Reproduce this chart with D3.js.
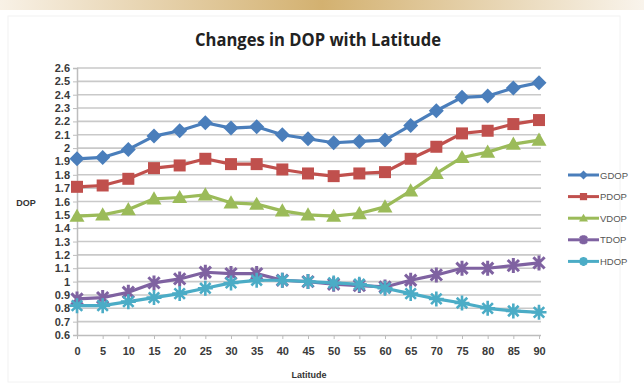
<!DOCTYPE html>
<html>
<head>
<meta charset="utf-8">
<script src="https://cdn.jsdelivr.net/npm/d3@7"></script>
<style>
  html, body { margin: 0; padding: 0; background: #fff; }
  svg { display: block; }
  text { font-family: "Liberation Sans Narrow", "Liberation Sans", Arial, sans-serif; }
</style>
</head>
<body>
<svg id="chart" width="644" height="389"></svg>
<script>
// Latitude categories (degrees)
const latitudes = [0, 5, 10, 15, 20, 25, 30, 35, 40, 45, 50, 55, 60, 65, 70, 75, 80, 85, 90];

// Dilution of precision values per latitude
const gdop = [1.92, 1.93, 1.99, 2.09, 2.13, 2.19, 2.15, 2.16, 2.10, 2.07, 2.04, 2.05, 2.06, 2.17, 2.28, 2.38, 2.39, 2.45, 2.49];
const pdop = [1.71, 1.72, 1.77, 1.85, 1.87, 1.92, 1.88, 1.88, 1.84, 1.81, 1.79, 1.81, 1.82, 1.92, 2.01, 2.11, 2.13, 2.18, 2.21];
const vdop = [1.49, 1.50, 1.54, 1.62, 1.63, 1.65, 1.59, 1.58, 1.53, 1.50, 1.49, 1.51, 1.56, 1.68, 1.81, 1.93, 1.97, 2.03, 2.06];
const tdop = [0.87, 0.88, 0.92, 0.99, 1.02, 1.07, 1.06, 1.06, 1.01, 1.00, 0.98, 0.97, 0.96, 1.01, 1.05, 1.10, 1.10, 1.12, 1.14];
const hdop = [0.82, 0.82, 0.85, 0.88, 0.91, 0.95, 0.99, 1.01, 1.01, 1.00, 0.99, 0.98, 0.95, 0.91, 0.87, 0.84, 0.80, 0.78, 0.77];

// Y axis tick values and their printed labels
const yTicks = [0.6, 0.7, 0.8, 0.9, 1.0, 1.1, 1.2, 1.3, 1.4, 1.5, 1.6, 1.7, 1.8, 1.9, 2.0, 2.1, 2.2, 2.3, 2.4, 2.5, 2.6];
const yTickLabels = ["0.6","0.7","0.8","0.9","1","1.1","1.2","1.3","1.4","1.5","1.6","1.7","1.8","1.9","2","2.1","2.2","2.3","2.4","2.5","2.6"];

const seriesNames = ["GDOP", "PDOP", "VDOP", "TDOP", "HDOP"];
const seriesValues = [gdop, pdop, vdop, tdop, hdop];
const seriesColors = ["#4a7ebb", "#c0504d", "#9bbb59", "#7f62a1", "#4bacc6"];
const seriesMarkers = ["diamond", "square", "triangle", "xstar", "star"];

const svg = d3.select("#chart");

// Decorative header band
const defs = svg.append("defs");
const grad = defs.append("linearGradient").attr("id", "band").attr("x1", "0").attr("x2", "1");
grad.append("stop").attr("offset", "0").attr("stop-color", "#f8f1e6");
grad.append("stop").attr("offset", "0.5").attr("stop-color", "#d3b170");
grad.append("stop").attr("offset", "1").attr("stop-color", "#f9f4ec");
svg.append("rect").attr("x", 0).attr("y", 0).attr("width", 644).attr("height", 10).attr("fill", "url(#band)");

// Chart frame
svg.append("rect").attr("x", 8).attr("y", 16).attr("width", 612).attr("height", 366)
  .attr("fill", "#fff").attr("stroke", "#f2f2f2").attr("stroke-width", 1);

const x = d3.scalePoint().domain(latitudes).range([77, 539]);
const y = d3.scaleLinear().domain([0.6, 2.6]).range([335, 68]);
const left = 77, right = 541;

// Horizontal gridlines
svg.append("g").selectAll("line").data(yTicks.slice(1)).join("line")
  .attr("x1", left).attr("x2", right)
  .attr("y1", d => y(d)).attr("y2", d => y(d))
  .attr("stroke", "#c9c9c9").attr("stroke-width", 1.6);

// Y axis
const yAxis = d3.axisLeft(y).tickValues(yTicks).tickFormat((d, i) => yTickLabels[i]).tickSize(4).tickPadding(3);
const gy = svg.append("g").attr("transform", `translate(${left},0)`).call(yAxis);
gy.select(".domain").attr("stroke", "#bdbdbd").attr("stroke-width", 1.5);
gy.selectAll(".tick line").attr("stroke", "#bdbdbd");
gy.selectAll("text").attr("fill", "#3a3a3a").attr("font-size", 11).attr("font-weight", "bold");

// X axis
const xAxis = d3.axisBottom(x).tickSize(4).tickPadding(8);
const gx = svg.append("g").attr("transform", `translate(0,${y(0.6)})`).call(xAxis);
gx.select(".domain").attr("d", `M${left},0.5H${right}`).attr("stroke", "#bdbdbd").attr("stroke-width", 1.5);
gx.selectAll(".tick line").attr("stroke", "#bdbdbd");
gx.selectAll("text").attr("fill", "#3a3a3a").attr("font-size", 11).attr("font-weight", "bold");

// Titles
svg.append("text").attr("x", 318).attr("y", 46).attr("text-anchor", "middle")
  .attr("font-size", 17.5).attr("font-weight", "bold").attr("fill", "#222")
  .style("font-family", "'Open Sans', 'Liberation Sans', sans-serif")
  .attr("textLength", 246).attr("lengthAdjust", "spacingAndGlyphs")
  .text("Changes in DOP with Latitude");
svg.append("text").attr("x", 309).attr("y", 378).attr("text-anchor", "middle")
  .attr("font-size", 9).attr("font-weight", "bold").attr("fill", "#333").text("Latitude");
svg.append("text").attr("x", 26).attr("y", 206).attr("text-anchor", "middle")
  .attr("font-size", 9).attr("font-weight", "bold").attr("fill", "#333").text("DOP");

// Marker drawing
function drawMarker(g, type, color, s) {
  if (type === "diamond") {
    g.append("path").attr("d", `M0,${-s}L${s},0L0,${s}L${-s},0Z`).attr("fill", color);
  } else if (type === "square") {
    g.append("rect").attr("x", -s * 0.8).attr("y", -s * 0.8).attr("width", s * 1.6).attr("height", s * 1.6).attr("fill", color);
  } else if (type === "triangle") {
    g.append("path").attr("d", `M0,${-s}L${s},${s * 0.75}L${-s},${s * 0.75}Z`).attr("fill", color);
  } else if (type === "xstar") {
    const a = s * 0.75;
    g.append("path").attr("d", `M${-a},${-a}L${a},${a}M${-a},${a}L${a},${-a}M0,${-s}V${s}`)
      .attr("stroke", color).attr("stroke-width", 3).attr("fill", "none");
  } else if (type === "star") {
    const a = s * 0.7;
    g.append("path").attr("d", `M${-a},${-a}L${a},${a}M${-a},${a}L${a},${-a}M0,${-s}V${s}M${-s},0H${s}`)
      .attr("stroke", color).attr("stroke-width", 2.6).attr("fill", "none");
  }
}

const line = d3.line().x((d, i) => x(latitudes[i])).y(d => y(d));

seriesValues.forEach((vals, k) => {
  const g = svg.append("g");
  g.append("path").datum(vals).attr("d", line)
    .attr("fill", "none").attr("stroke", seriesColors[k]).attr("stroke-width", 3.2)
    .attr("stroke-linejoin", "round");
  vals.forEach((v, i) => {
    const m = g.append("g").attr("transform", `translate(${x(latitudes[i])},${y(v)})`);
    drawMarker(m, seriesMarkers[k], seriesColors[k], 7.5);
  });
});

// Legend
const legend = svg.append("g");
seriesNames.forEach((name, k) => {
  const ly = 175 + k * 21.6;
  const lg = legend.append("g");
  lg.append("line").attr("x1", 568).attr("x2", 599).attr("y1", ly).attr("y2", ly)
    .attr("stroke", seriesColors[k]).attr("stroke-width", 3);
  const m = lg.append("g").attr("transform", `translate(583.5,${ly})`);
  drawMarker(m, seriesMarkers[k], seriesColors[k], 4.5);
  lg.append("text").attr("x", 600).attr("y", ly + 3.5).attr("font-size", 9.5)
    .attr("fill", "#555").text(name);
});
</script>
</body>
</html>
